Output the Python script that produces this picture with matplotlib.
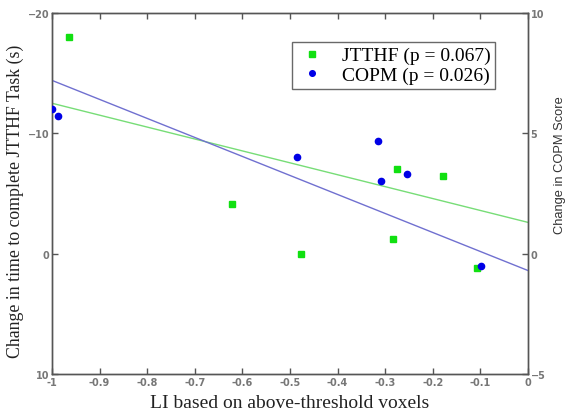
import matplotlib
matplotlib.use("Agg")
import matplotlib.pyplot as plt

# JTTHF (left axis, seconds) - green squares
jtthf_li = [-0.964, -0.622, -0.476, -0.284, -0.107, -0.275, -0.179]
jtthf_change = [-18.0, -4.1, 0.0, -1.2, 1.2, -7.0, -6.45]

# COPM (right axis, score) - blue dots
copm_li = [-1.0, -0.988, -0.486, -0.314, -0.308, -0.255, -0.099]
copm_change = [6.0, 5.7, 4.0, 4.7, 3.0, 3.3, -0.5]

# regression lines as drawn (end points at LI = -1 and 0)
fit_li = [-1.0, 0.0]
jtthf_fit = [-12.5, -2.6]
copm_fit = [7.2, -0.7]

xticks = [-1, -0.9, -0.8, -0.7, -0.6, -0.5, -0.4, -0.3, -0.2, -0.1, 0]
xticklabels = ["-1", "-0.9", "-0.8", "-0.7", "-0.6", "-0.5", "-0.4", "-0.3", "-0.2", "-0.1", "0"]

tick_col = "#555555"

fig = plt.figure(figsize=(5.68, 4.14), dpi=100)
ax = fig.add_axes([0.0915, 0.0942, 0.838, 0.872])
ax2 = ax.twinx()

ax.plot(fit_li, jtthf_fit, color="#77dd77", lw=1.0, zorder=2)
ax2.plot(fit_li, copm_fit, color="#7070d0", lw=1.0, zorder=2)

g, = ax.plot(jtthf_li, jtthf_change, "s", color="#11e011", ms=4.5, mec="#11e011", zorder=3)
b, = ax2.plot(copm_li, copm_change, "o", color="#0000e6", ms=4.5, mec="#0000e6", zorder=3)

ax.set_xlim(-1, 0)
ax.set_ylim(10, -20)
ax2.set_ylim(-5, 10)

ax.set_xticks(xticks)
ax.set_xticklabels(xticklabels)
ax.set_yticks([-20, -10, 0, 10])
ax2.set_yticks([-5, 0, 5, 10])

for a in (ax, ax2):
    for s in a.spines.values():
        s.set_color(tick_col)
        s.set_linewidth(1.0)
    a.tick_params(direction="in", length=4, width=1, colors=tick_col,
                  labelsize=7, pad=2)
ax.tick_params(axis="x", top=True)
for t in ax.get_xticklabels() + ax.get_yticklabels() + ax2.get_yticklabels():
    t.set_fontweight("bold")
    t.set_color("#777777")

ax.set_xlabel("LI based on above-threshold voxels", family="Liberation Serif",
              fontsize=14, color="#222222")
ax.set_ylabel("Change in time to complete JTTHF Task (s)", family="Liberation Serif",
              fontsize=12.8, color="#222222")
ax.xaxis.set_label_coords(0.5, -0.055)
ax.yaxis.set_label_coords(-0.058, 0.48)
ax2.set_ylabel("Change in COPM Score", family="Liberation Sans",
               fontsize=9.3, color="#333333")
ax2.yaxis.set_label_coords(1.055, 0.58)

leg = ax.legend([g, b], ["JTTHF (p = 0.067)", "COPM (p = 0.026)"],
                loc="upper right", bbox_to_anchor=(0.931, 0.92),
                prop={"family": "Liberation Serif", "size": 14},
                frameon=True, fancybox=False, edgecolor="#444444",
                handlelength=1.6, handletextpad=0.7, borderpad=0.25,
                borderaxespad=0.0, labelspacing=0.1, markerscale=0.9)
leg.get_frame().set_linewidth(1.0)

fig.savefig("out.png", dpi=100)
